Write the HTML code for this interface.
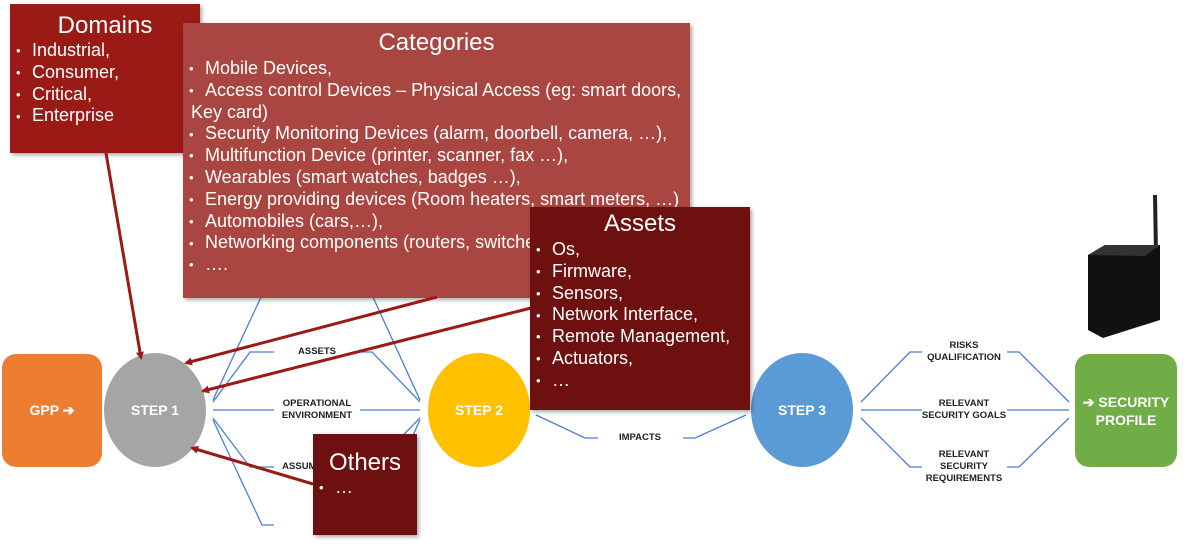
<!DOCTYPE html>
<html><head><meta charset="utf-8"><style>
body{margin:0;width:1200px;height:556px;background:#fff;position:relative;overflow:hidden;font-family:"Liberation Sans",sans-serif}
.box{position:absolute;color:#fff;box-shadow:2px 2px 4px rgba(0,0,0,.35)}
.box h3{margin:0;font-weight:normal;text-align:center;font-size:24px;line-height:28px}
.box ul{margin:0;padding:0;list-style:none;font-size:18px;line-height:21.8px}
.box li{height:21.8px;white-space:nowrap}
.box li:before{content:"•";display:inline-block;width:22px;text-indent:6px;font-size:13px;line-height:10px;vertical-align:middle}
.box li.nb:before{content:"";width:8px}
.lab{position:absolute;font-size:9.5px;font-weight:bold;color:#222;text-align:center;line-height:12px;transform:translate(-50%,-50%);white-space:nowrap}
.c{position:absolute;color:#fff;font-weight:bold;font-size:14px;display:flex;align-items:center;justify-content:center;text-align:center}
</style></head><body>
<svg width="1200" height="556" style="position:absolute;left:0;top:0">
<g stroke="#4a7fd0" stroke-width="1.3" fill="none">
<path d="M213,400 L262,295 L274,295 M360,295 L372,295 L420,400"/>
<path d="M213,402 L250,352 L274,352 M360,352 L372,352 L420,402"/>
<path d="M213,410 L274,410 M360,410 L420,410"/>
<path d="M213,418 L250,467 L274,467 M360,467 L372,467 L420,418"/>
<path d="M213,420 L262,525 L274,525 M360,525 L372,525 L420,420"/>
<path d="M536,415 L585,438 L598,438 M683,438 L695,438 L746,415"/>
<path d="M861,402 L910,352 L922,352 M1007,352 L1019,352 L1069,402"/>
<path d="M861,410 L922,410 M1007,410 L1069,410"/>
<path d="M861,418 L910,467 L922,467 M1007,467 L1019,467 L1069,418"/>
</g>
<rect x="2" y="354" width="100" height="113" rx="14" fill="#ed7d31"/>
<ellipse cx="155" cy="410" rx="51" ry="57" fill="#a5a5a5"/>
<ellipse cx="479" cy="410" rx="51" ry="57" fill="#ffc000"/>
<ellipse cx="802" cy="410" rx="51" ry="57" fill="#5b9bd5"/>
<rect x="1075" y="354" width="102" height="113" rx="14" fill="#70ad47"/>
<g>
<line x1="1155" y1="195" x2="1156" y2="255" stroke="#222" stroke-width="4"/>
<polygon points="1088,255 1105,245 1160,245 1160,320 1103,338 1088,330" fill="#111"/>
<polygon points="1088,255 1105,245 1160,245 1145,256" fill="#333"/>
</g>
</svg>
<div class="c" style="left:2px;top:354px;width:100px;height:113px">GPP ➔</div>
<div class="c" style="left:104px;top:353px;width:102px;height:114px">STEP 1</div>
<div class="c" style="left:428px;top:353px;width:102px;height:114px">STEP 2</div>
<div class="c" style="left:751px;top:353px;width:102px;height:114px">STEP 3</div>
<div class="c" style="left:1075px;top:354px;width:102px;height:113px;line-height:18px">➔ SECURITY<br>PROFILE</div>
<div class="lab" style="left:317px;top:296px">USERS</div>
<div class="lab" style="left:317px;top:352px">ASSETS</div>
<div class="lab" style="left:317px;top:410px">OPERATIONAL<br>ENVIRONMENT</div>
<div class="lab" style="left:317px;top:467px">ASSUMPTIONS</div>
<div class="lab" style="left:640px;top:438px">IMPACTS</div>
<div class="lab" style="left:964px;top:352px">RISKS<br>QUALIFICATION</div>
<div class="lab" style="left:964px;top:410px">RELEVANT<br>SECURITY GOALS</div>
<div class="lab" style="left:964px;top:467px">RELEVANT<br>SECURITY<br>REQUIREMENTS</div>

<div class="box" style="left:10px;top:4px;width:190px;height:149px;background:#9a1a16">
<h3 style="margin-top:8px;margin-bottom:0px">Domains</h3>
<ul><li>Industrial,</li><li>Consumer,</li><li>Critical,</li><li>Enterprise</li></ul></div>

<div class="box" style="left:183px;top:23px;width:507px;height:275px;background:#a94642">
<h3 style="margin-top:6px;margin-bottom:1px">Categories</h3>
<ul><li>Mobile Devices,</li><li>Access control Devices – Physical Access (eg: smart doors,</li><li class="nb">Key card)</li><li>Security Monitoring Devices (alarm, doorbell, camera, …),</li><li>Multifunction Device (printer, scanner, fax …),</li><li>Wearables (smart watches, badges …),</li><li>Energy providing devices (Room heaters, smart meters, …)</li><li>Automobiles (cars,…),</li><li>Networking components (routers, switches, …)</li><li>….</li></ul></div>

<svg width="1200" height="556" style="position:absolute;left:0;top:0">
<defs><marker id="a" markerWidth="8" markerHeight="8" refX="6" refY="4" orient="auto" markerUnits="userSpaceOnUse"><path d="M0,0 L8,4 L0,8 z" fill="#9a1a16"/></marker></defs>
<g stroke="#9a1a16" stroke-width="3" marker-end="url(#a)">
<line x1="106" y1="153" x2="141" y2="358"/>
<line x1="437" y1="297" x2="186" y2="363"/>
<line x1="535" y1="307" x2="203" y2="391"/>
<line x1="313" y1="484" x2="192" y2="448"/>
</g></svg>

<div class="box" style="left:530px;top:207px;width:220px;height:203px;background:#6e1010">
<h3 style="margin-top:3px;margin-bottom:1px">Assets</h3>
<ul><li>Os,</li><li>Firmware,</li><li>Sensors,</li><li>Network Interface,</li><li>Remote Management,</li><li>Actuators,</li><li>…</li></ul></div>

<div class="box" style="left:313px;top:434px;width:104px;height:101px;background:#6e1010">
<h3 style="margin-top:15px">Others</h3>
<ul><li>…</li></ul></div>
</body></html>
